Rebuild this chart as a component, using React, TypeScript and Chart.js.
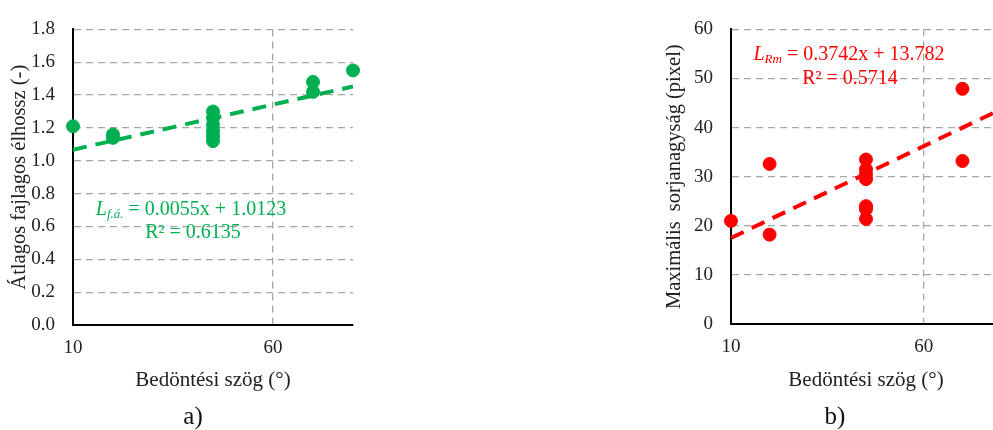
import React, { useEffect, useRef } from "react";
import { Chart, registerables } from "chart.js";
Chart.register(...registerables);

// ---------- data ----------
const xTickValues = [10, 60];
const xRange = [10, 80];

// chart a)
const angleA = [10, 20, 20, 45, 45, 45, 45, 45, 45, 70, 70, 80];
const lengthA = [1.21, 1.16, 1.14, 1.3, 1.26, 1.22, 1.18, 1.15, 1.12, 1.48, 1.42, 1.55];
const yTicksA = [0, 0.2, 0.4, 0.6, 0.8, 1.0, 1.2, 1.4, 1.6, 1.8];
const slopeA = 0.0055;
const interceptA = 1.0123;

// chart b)
const angleB = [10, 20, 20, 45, 45, 45, 45, 45, 45, 45, 70, 70];
const burrB = [21.0, 32.6, 18.2, 33.5, 31.5, 30.5, 29.5, 24.0, 23.4, 21.4, 47.9, 33.2];
const yTicksB = [0, 10, 20, 30, 40, 50, 60];
const slopeB = 0.3742;
const interceptB = 13.782;

const FONT = "'Liberation Serif', 'Times New Roman', serif";

type Seg = { t: string; it?: boolean; sub?: boolean };

const equationPlugin = {
  id: "equation",
  afterDatasetsDraw(chart: any, _args: any, opts: any) {
    if (!opts || !opts.lines) return;
    const ctx = chart.ctx;
    ctx.save();
    ctx.fillStyle = opts.color;
    ctx.textBaseline = "middle";
    ctx.textAlign = "left";
    for (const line of opts.lines as { cx: number; cy: number; segs: Seg[] }[]) {
      const fontOf = (s: Seg) =>
        `${s.it ? "italic " : ""}${s.sub ? opts.subSize : opts.size}px ${FONT}`;
      let total = 0;
      for (const s of line.segs) {
        ctx.font = fontOf(s);
        total += ctx.measureText(s.t).width;
      }
      let x = line.cx - total / 2;
      for (const s of line.segs) {
        ctx.font = fontOf(s);
        ctx.fillText(s.t, x, line.cy + (s.sub ? 5 : 0));
        x += ctx.measureText(s.t).width;
      }
    }
    ctx.restore();
  },
};
Chart.register(equationPlugin);

type Props = {
  left: number;
  xs: number[];
  ys: number[];
  yTicks: number[];
  yMax: number;
  decimals: number;
  slope: number;
  intercept: number;
  color: string;
  yTitle: string;
  yTitlePad: number;
  yWidth: number;
  xHeight: number;
  padRight: number;
  eq: { cx: number; cy: number; segs: Seg[] }[];
};

function ScatterChart(p: Props) {
  const ref = useRef<HTMLCanvasElement>(null);
  useEffect(() => {
    if (!ref.current) return;
    const pts = p.xs.map((x, i) => ({ x, y: p.ys[i] }));
    const trend = xRange.map((x) => ({ x, y: p.slope * x + p.intercept }));
    const chart = new Chart(ref.current, {
      type: "scatter",
      data: {
        datasets: [
          {
            type: "line",
            data: trend,
            borderColor: p.color,
            borderWidth: 4,
            borderDash: [14, 9],
            pointRadius: 0,
            fill: false,
            tension: 0,
          } as any,
          {
            data: pts,
            backgroundColor: p.color,
            borderColor: p.color,
            pointRadius: 6.5,
            pointHoverRadius: 6.5,
            clip: false,
          } as any,
        ],
      },
      options: {
        responsive: false,
        animation: false,
        events: [],
        layout: { padding: { left: 0, right: p.padRight, top: 17, bottom: 0 } },
        plugins: {
          legend: { display: false },
          tooltip: { enabled: false },
          equation: { lines: p.eq, color: p.color, size: 20, subSize: 13 },
        } as any,
        scales: {
          x: {
            type: "linear",
            min: xRange[0],
            max: xRange[1],
            afterBuildTicks: (s: any) => {
              s.ticks = xTickValues.map((v) => ({ value: v }));
            },
            afterFit: (s: any) => {
              s.height = p.xHeight;
            },
            grid: {
              drawTicks: false,
              lineWidth: 1.3,
              color: (c: any) => (c.tick && c.tick.value === xRange[0] ? "rgba(0,0,0,0)" : "#A6A6A6"),
            },
            border: { display: true, color: "#000", width: 2, dash: [7, 5] },
            ticks: {
              padding: 12,
              color: "#222",
              font: { family: FONT, size: 19 },
              callback: (v: any) => String(v),
            },
            title: {
              display: true,
              text: "Bedöntési szög (°)",
              color: "#222",
              font: { family: FONT, size: 21, lineHeight: 1.2 },
              padding: { top: 0, bottom: 37 },
            },
          },
          y: {
            type: "linear",
            min: 0,
            max: p.yMax,
            afterBuildTicks: (s: any) => {
              s.ticks = p.yTicks.map((v) => ({ value: v }));
            },
            afterFit: (s: any) => {
              s.width = p.yWidth;
            },
            grid: {
              drawTicks: false,
              lineWidth: 1.3,
              color: (c: any) => (c.tick && c.tick.value === 0 ? "rgba(0,0,0,0)" : "#A6A6A6"),
            },
            border: { display: true, color: "#000", width: 2, dash: [7, 5] },
            ticks: {
              padding: 18,
              color: "#222",
              font: { family: FONT, size: 19 },
              callback: (v: any) => Number(v).toFixed(p.decimals),
            },
            title: {
              display: true,
              text: p.yTitle,
              color: "#222",
              font: { family: FONT, size: 20.5, lineHeight: 1.2 },
              padding: { top: p.yTitlePad, bottom: 0 },
            },
          },
        },
      },
    });
    return () => chart.destroy();
  }, []);
  return (
    <canvas
      ref={ref}
      width={370}
      height={430}
      style={{ position: "absolute", left: p.left, top: 0, width: 370, height: 430 }}
    />
  );
}

export default function App() {
  return (
    <div
      style={{
        position: "fixed",
        left: 0,
        top: 0,
        width: 993,
        height: 430,
        overflow: "hidden",
        background: "#fff",
      }}
    >
      <ScatterChart
        left={0}
        xs={angleA}
        ys={lengthA}
        yTicks={yTicksA}
        yMax={1.8}
        decimals={1}
        slope={slopeA}
        intercept={interceptA}
        color="#00B050"
        yTitle="Átlagos fajlagos élhossz (-)"
        yTitlePad={7}
        yWidth={73}
        xHeight={105}
        padRight={17}
        eq={[
          { cx: 191, cy: 210, segs: [{ t: "L", it: true }, { t: "f.á.", it: true, sub: true }, { t: " = 0.0055x + 1.0123" }] },
          { cx: 193, cy: 233, segs: [{ t: "R² = 0.6135" }] },
        ]}
      />
      <ScatterChart
        left={640}
        xs={angleB}
        ys={burrB}
        yTicks={yTicksB}
        yMax={60}
        decimals={0}
        slope={slopeB}
        intercept={interceptB}
        color="#FF0000"
        yTitle="Maximális  sorjanagyság (pixel)"
        yTitlePad={22}
        yWidth={91}
        xHeight={106}
        padRight={9}
        eq={[
          { cx: 209, cy: 55, segs: [{ t: "L", it: true }, { t: "Rm", it: true, sub: true }, { t: " = 0.3742x + 13.782" }] },
          { cx: 210, cy: 79, segs: [{ t: "R² = 0.5714" }] },
        ]}
      />
      <div
        style={{
          position: "absolute",
          left: 143,
          width: 100,
          top: 401,
          textAlign: "center",
          fontFamily: FONT,
          fontSize: 25,
          lineHeight: "30px",
          color: "#111",
        }}
      >
        a)
      </div>
      <div
        style={{
          position: "absolute",
          left: 785,
          width: 100,
          top: 401,
          textAlign: "center",
          fontFamily: FONT,
          fontSize: 25,
          lineHeight: "30px",
          color: "#111",
        }}
      >
        b)
      </div>
    </div>
  );
}
